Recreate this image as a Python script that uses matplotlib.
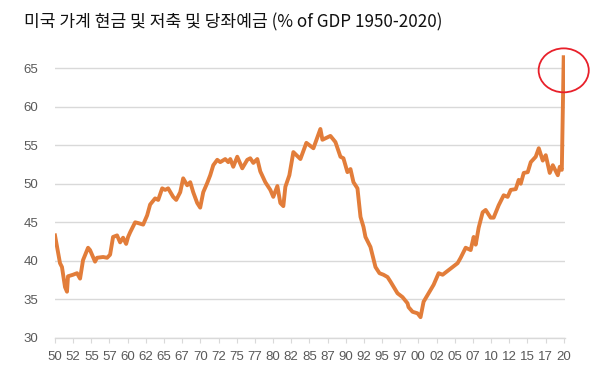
import matplotlib.pyplot as plt
from matplotlib.patches import Ellipse
import numpy as np

plt.rcParams['font.family'] = ['Liberation Sans', 'DejaVu Sans']

# US household currency, savings and checkable deposits (% of GDP)
years = [
    1950.00, 1950.69, 1950.96, 1951.38, 1951.65, 1951.79, 1952.48, 1953.03, 1953.45, 1953.86,
    1954.55, 1954.82, 1955.51, 1955.79, 1956.62, 1957.17, 1957.58, 1957.99, 1958.54, 1958.96,
    1959.37, 1959.79, 1960.06, 1960.34, 1961.03, 1961.44, 1962.13, 1962.68, 1963.09, 1963.78,
    1964.20, 1964.75, 1965.16, 1965.57, 1966.26, 1966.68, 1967.23, 1967.64, 1968.19, 1968.61,
    1969.02, 1969.57, 1969.98, 1970.40, 1970.95, 1971.36, 1971.78, 1972.33, 1972.74, 1973.43,
    1973.84, 1974.12, 1974.53, 1975.08, 1975.77, 1976.46, 1976.87, 1977.29, 1977.84, 1978.25,
    1978.94, 1979.63, 1980.04, 1980.60, 1981.01, 1981.42, 1981.70, 1982.25, 1982.80, 1983.77,
    1984.59, 1985.56, 1986.52, 1986.80, 1987.90, 1988.59, 1989.28, 1989.69, 1990.24, 1990.66,
    1991.07, 1991.62, 1992.04, 1992.45, 1992.72, 1993.41, 1994.10, 1994.65, 1995.20, 1995.76,
    1996.17, 1997.13, 1997.82, 1998.51, 1998.65, 1999.20, 1999.89, 2000.30, 2000.72, 2001.41,
    2002.10, 2002.79, 2003.34, 2004.03, 2004.44, 2005.40, 2005.82, 2006.51, 2007.20, 2007.61,
    2007.89, 2008.30, 2008.85, 2009.26, 2009.95, 2010.36, 2011.05, 2011.74, 2012.29, 2012.71,
    2013.40, 2013.81, 2014.09, 2014.50, 2015.05, 2015.47, 2016.15, 2016.57, 2017.12, 2017.53,
    2018.08, 2018.50, 2019.19, 2019.46, 2019.74, 2020.00,
]
values = [
    43.3, 39.7, 39.2, 36.6, 36.0, 38.0, 38.2, 38.4, 37.7, 40.1,
    41.7, 41.4, 39.9, 40.4, 40.5, 40.4, 40.8, 43.1, 43.3, 42.4,
    43.0, 42.2, 43.1, 43.7, 45.0, 44.9, 44.7, 45.9, 47.3, 48.1,
    47.9, 49.4, 49.2, 49.4, 48.3, 47.9, 48.9, 50.7, 49.8, 50.2,
    48.9, 47.5, 46.9, 48.9, 50.1, 51.1, 52.4, 53.1, 52.8, 53.2,
    52.8, 53.2, 52.2, 53.5, 52.0, 53.1, 53.3, 52.7, 53.2, 51.6,
    50.2, 49.2, 48.3, 49.7, 47.5, 47.1, 49.6, 51.1, 54.1, 53.2,
    55.3, 54.6, 57.1, 55.7, 56.2, 55.4, 53.5, 53.3, 51.5, 51.9,
    50.2, 49.4, 45.7, 44.4, 43.1, 41.8, 39.2, 38.4, 38.2, 37.9,
    37.3, 35.8, 35.3, 34.5, 34.0, 33.4, 33.2, 32.7, 34.7, 35.8,
    36.9, 38.4, 38.2, 38.7, 39.0, 39.7, 40.4, 41.7, 41.4, 43.1,
    42.1, 44.3, 46.3, 46.6, 45.6, 45.6, 47.2, 48.5, 48.3, 49.2,
    49.3, 50.5, 50.0, 51.4, 51.5, 52.8, 53.5, 54.6, 53.0, 53.7,
    51.4, 52.4, 51.1, 52.2, 51.8, 66.4,
]
tick_years = [1950 + 2.5 * k for k in range(29)]
tick_labels = [f"{int(t) % 100:02d}" for t in tick_years]
y_ticks = [30, 35, 40, 45, 50, 55, 60, 65]

LINE_COLOR = '#E27D3A'
GRID_COLOR = '#D9D9D9'
TEXT_COLOR = '#595959'

fig = plt.figure(figsize=(6.09, 3.79), dpi=100)
ax = fig.add_axes([0.0903, 0.1082, 0.8377, 0.753])

ax.plot(years, values, color=LINE_COLOR, linewidth=2.8, solid_joinstyle='round', zorder=3)

ax.set_xlim(1950, 2020.2)
ax.set_ylim(30, 67)
ax.set_yticks(y_ticks)
ax.set_xticks(tick_years)
ax.set_xticklabels(tick_labels)

ax.grid(axis='y', color=GRID_COLOR, linewidth=1.0)
ax.grid(axis='x', visible=False)
for s in ['top', 'right', 'left']:
    ax.spines[s].set_visible(False)
ax.spines['bottom'].set_color(GRID_COLOR)
ax.spines['bottom'].set_linewidth(1.0)

ax.tick_params(axis='y', length=0, pad=12, labelsize=9.5, labelcolor=TEXT_COLOR)
ax.tick_params(axis='x', length=3.5, width=0.8, color=GRID_COLOR, pad=6,
               labelsize=9.5, labelcolor=TEXT_COLOR)

# red circle highlighting the 2020 spike
circle = Ellipse((2020.0, 64.7), width=6.9, height=5.7, fill=False,
                 edgecolor='#E8202A', linewidth=1.3, clip_on=False, zorder=4)
ax.add_patch(circle)

fig.text(0.040, 0.94, '미국 가계 현금 및 저축 및 당좌예금 (% of GDP 1950-2020)',
         family=['Noto Sans CJK KR', 'DejaVu Sans'], fontsize=12.3,
         color='#111111', ha='left', va='center')

fig.savefig('out.png', dpi=100)
